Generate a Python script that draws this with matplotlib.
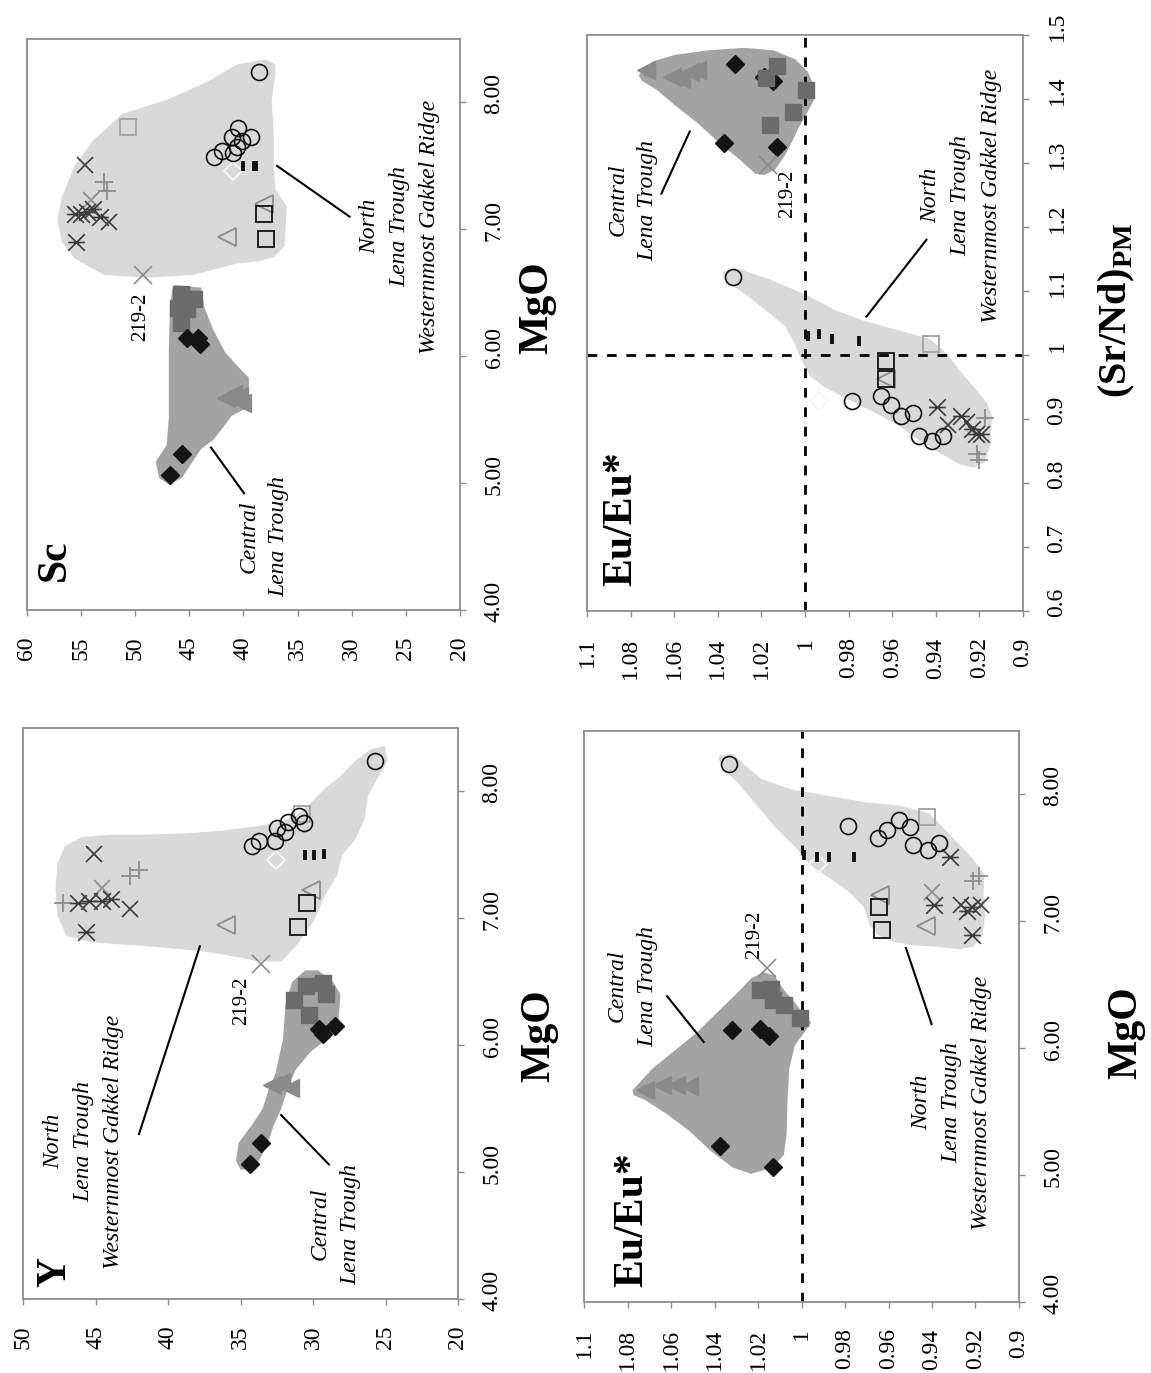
import matplotlib
matplotlib.use("Agg")
import matplotlib.pyplot as plt
from matplotlib.path import Path
from matplotlib.transforms import ScaledTranslation

plt.rcParams['font.family'] = ['Liberation Serif', 'DejaVu Serif']
plt.rcParams['mathtext.fontset'] = 'custom'
plt.rcParams['mathtext.rm'] = 'Liberation Serif'
plt.rcParams['mathtext.bf'] = 'Liberation Serif:bold'

# ---------------------------------------------------------------- data
# Each pair is (plotted element ratio / ppm value, MgO or (Sr/Nd)PM)

# --- Sc vs MgO
sc_field_n = [(37.05, 8.30), (37.9, 8.34), (40.6, 8.30), (43.4, 8.16), (47.1, 8.02),
              (51.2, 7.91), (53.9, 7.70), (55.6, 7.50), (56.8, 7.25), (57.2, 7.08),
              (56.8, 6.90), (55.6, 6.77), (52.9, 6.64), (48.8, 6.62), (44.7, 6.64),
              (40.6, 6.73), (38.6, 6.75), (37.2, 6.78), (36.2, 6.87), (36.0, 7.18),
              (37.05, 7.32), (37.2, 7.50), (37.2, 7.77), (37.4, 8.01), (37.05, 8.23)]
sc_field_c = [(46.4, 6.56), (43.9, 6.54), (43.6, 6.38), (42.8, 6.21), (41.7, 6.03),
              (40.3, 5.90), (39.5, 5.83), (39.5, 5.60), (41.1, 5.53), (41.7, 5.46),
              (42.8, 5.34), (43.9, 5.27), (44.7, 5.17), (45.7, 5.04), (46.9, 4.99),
              (47.8, 5.04), (48.1, 5.17), (47.1, 5.30), (46.9, 5.51), (46.9, 6.03),
              (46.8, 6.38), (46.6, 6.52)]
sc_circle = [(38.6, 8.24), (40.5, 7.80), (39.3, 7.73), (41.1, 7.73), (40.1, 7.70),
             (40.6, 7.65), (42.0, 7.62), (41.0, 7.60), (42.7, 7.57)]
sc_dash = [(40.0, 7.50), (39.0, 7.50), (38.8, 7.50)]
sc_dia_open = [(41.0, 7.46)]
sc_tri_open = [(41.5, 6.94), (38.1, 7.20)]
sc_sq_open = [(38.1, 7.12), (37.9, 6.92)]
sc_sq_grey = [(50.7, 7.81)]
sc_cross = [(54.6, 7.51), (52.4, 7.06)]
sc_star = [(55.5, 6.90), (55.6, 7.12), (55.0, 7.12), (54.5, 7.14), (53.9, 7.16), (53.3, 7.10)]
sc_plus = [(52.9, 7.37), (52.6, 7.30)]
sc_xlight = [(54.1, 7.23)]
sc_219 = [(49.3, 6.64)]
sc_c_dia = [(46.8, 5.06), (45.7, 5.23), (45.2, 6.14), (44.2, 6.14), (44.0, 6.10)]
sc_c_sq = [(45.75, 6.49), (44.56, 6.45), (46.09, 6.38), (45.24, 6.37), (45.75, 6.26)]
sc_c_tri = [(41.66, 5.67), (40.98, 5.70), (40.46, 5.69), (40.12, 5.63)]

# --- Y vs MgO
y_field_n = [(25.05, 8.36), (26.07, 8.33), (27.09, 8.24), (28.11, 8.12), (29.13, 8.03),
             (30.15, 7.91), (31.17, 7.81), (32.19, 7.76), (33.72, 7.73), (36.28, 7.69),
             (38.83, 7.67), (41.38, 7.66), (43.93, 7.66), (45.97, 7.64), (47.12, 7.57),
             (47.63, 7.43), (47.76, 7.23), (47.63, 7.02), (46.99, 6.86), (45.20, 6.81),
             (41.38, 6.78), (37.55, 6.74), (35.0, 6.69), (33.72, 6.66), (32.19, 6.66),
             (31.17, 6.78), (29.90, 6.99), (29.13, 7.19), (28.37, 7.33), (27.98, 7.50),
             (27.09, 7.62), (26.45, 7.78), (26.20, 7.97), (25.56, 8.10), (24.85, 8.24)]
y_field_c = [(30.54, 6.59), (29.64, 6.59), (28.62, 6.50), (28.11, 6.40), (28.24, 6.19),
             (29.0, 6.05), (30.15, 5.95), (31.17, 5.81), (31.68, 5.68), (32.19, 5.50),
             (32.70, 5.37), (33.21, 5.20), (33.72, 5.09), (34.23, 5.02), (35.0, 5.02),
             (35.31, 5.09), (35.13, 5.23), (34.23, 5.37), (33.47, 5.50), (33.09, 5.64),
             (32.58, 5.78), (32.07, 6.05), (31.89, 6.33), (31.43, 6.50)]
y_circle = [(25.69, 8.24), (34.23, 7.57), (33.72, 7.61), (32.65, 7.61), (32.50, 7.71),
            (31.94, 7.68), (31.73, 7.76), (30.97, 7.81), (30.61, 7.75)]
y_dash = [(30.54, 7.50), (29.9, 7.50), (29.26, 7.51)]
y_dia_open = [(32.58, 7.46)]
y_tri_open = [(35.97, 6.95), (30.15, 7.22)]
y_sq_open = [(31.05, 6.93), (30.41, 7.12)]
y_sq_grey = [(30.79, 7.82)]
y_cross = [(45.08, 7.51), (42.65, 7.07)]
y_star = [(45.66, 6.89), (46.22, 7.12), (45.46, 7.14), (44.57, 7.14), (43.93, 7.15)]
y_plus = [(47.24, 7.12), (42.65, 7.33), (42.02, 7.38)]
y_xlight = [(44.57, 7.24)]
y_219 = [(33.6, 6.64)]
y_c_dia = [(34.36, 5.06), (33.6, 5.23), (29.59, 6.13), (29.34, 6.09), (28.49, 6.15)]
y_c_sq = [(31.30, 6.36), (30.46, 6.47), (29.34, 6.49), (29.13, 6.40), (30.28, 6.24)]
y_c_tri = [(32.83, 5.69), (32.19, 5.71), (31.56, 5.66)]

# --- Eu/Eu* vs MgO
eu_field_n = [(1.0375, 8.31), (1.0316, 8.32), (1.0266, 8.24), (1.0182, 8.12), (1.0048, 8.04),
              (0.9880, 7.99), (0.9712, 7.94), (0.9545, 7.91), (0.9411, 7.85), (0.9344, 7.73),
              (0.9277, 7.61), (0.9210, 7.49), (0.9159, 7.37), (0.9163, 7.21), (0.9156, 7.04),
              (0.9168, 6.89), (0.9210, 6.80), (0.9277, 6.78), (0.9377, 6.80), (0.9478, 6.81),
              (0.9578, 6.84), (0.9646, 6.89), (0.9687, 6.97), (0.9712, 7.11), (0.9780, 7.23),
              (0.9880, 7.35), (0.9964, 7.45), (1.0031, 7.59), (1.0115, 7.73), (1.0199, 7.90),
              (1.0283, 8.07), (1.0350, 8.19), (1.0383, 8.28)]
eu_field_c = [(1.0777, 5.67), (1.0685, 5.84), (1.0584, 5.98), (1.0484, 6.12), (1.0383, 6.29),
              (1.0299, 6.43), (1.0232, 6.55), (1.0174, 6.60), (1.0123, 6.57), (1.0081, 6.46),
              (1.0031, 6.36), (0.9981, 6.25), (0.9956, 6.20), (0.9989, 6.12), (1.0031, 6.02),
              (1.0056, 5.84), (1.0065, 5.57), (1.0068, 5.33), (1.0081, 5.16), (1.0132, 5.06),
              (1.0232, 5.01), (1.0316, 5.06), (1.0417, 5.19), (1.0517, 5.35), (1.0618, 5.48),
              (1.0718, 5.59), (1.0772, 5.63)]
eu_circle = [(1.0333, 8.24), (0.9788, 7.75), (0.9649, 7.66), (0.9609, 7.72), (0.9553, 7.80),
             (0.9503, 7.74), (0.9486, 7.60), (0.9419, 7.56), (0.9369, 7.62)]
eu_dash = [(0.9989, 7.52), (0.9930, 7.51), (0.9872, 7.51), (0.9760, 7.51)]
eu_dia_open = [(0.9922, 7.45)]
eu_tri_open = [(0.9637, 7.21), (0.9427, 6.96)]
eu_sq_open = [(0.9642, 7.11), (0.9632, 6.93)]
eu_sq_grey = [(0.9424, 7.82)]
eu_cross = [(0.9268, 7.13), (0.9176, 7.13)]
eu_star = [(0.9319, 7.51), (0.9391, 7.13), (0.9218, 7.11), (0.9218, 6.89), (0.9240, 7.08)]
eu_plus = [(0.9210, 7.32), (0.9184, 7.36)]
eu_xlight = [(0.9402, 7.23)]
eu_219 = [(1.0157, 6.63)]
eu_c_dia = [(1.0132, 5.06), (1.0375, 5.23), (1.0319, 6.14), (1.0190, 6.15), (1.0150, 6.10)]
eu_c_sq = [(1.0190, 6.46), (1.0140, 6.47), (1.0130, 6.38), (1.0080, 6.34), (1.0006, 6.24)]
eu_c_tri = [(1.0718, 5.67), (1.0643, 5.71), (1.0576, 5.71), (1.0517, 5.70)]

# --- Eu/Eu* vs (Sr/Nd)PM
sr_field_n = [(1.0370, 1.132), (1.0295, 1.134), (1.0161, 1.118), (0.9994, 1.094), (0.9860, 1.070),
              (0.9727, 1.053), (0.9576, 1.039), (0.9426, 1.025), (0.9359, 1.005), (0.9292, 0.977),
              (0.9226, 0.950), (0.9167, 0.926), (0.9142, 0.905), (0.9150, 0.860), (0.9175, 0.833),
              (0.9226, 0.824), (0.9292, 0.829), (0.9376, 0.846), (0.9476, 0.867), (0.9576, 0.891),
              (0.9693, 0.912), (0.9810, 0.932), (0.9911, 0.950), (0.9977, 0.967), (1.0019, 0.994),
              (1.0053, 1.022), (1.0094, 1.046), (1.0195, 1.074), (1.0287, 1.098), (1.0362, 1.115),
              (1.0378, 1.125)]
sr_field_c = [(1.0763, 1.437), (1.0696, 1.459), (1.0596, 1.469), (1.0445, 1.476), (1.0278, 1.480),
              (1.0145, 1.476), (1.0044, 1.462), (0.9986, 1.442), (0.9957, 1.418), (0.9961, 1.397),
              (0.9994, 1.376), (1.0028, 1.356), (1.0061, 1.332), (1.0094, 1.311), (1.0136, 1.290),
              (1.0186, 1.281), (1.0228, 1.283), (1.0295, 1.304), (1.0395, 1.332), (1.0495, 1.363),
              (1.0596, 1.390), (1.0679, 1.414), (1.0746, 1.428)]
sr_circle = [(1.0332, 1.122), (0.9785, 0.928), (0.9652, 0.936), (0.9607, 0.922), (0.9560, 0.905),
             (0.9506, 0.910), (0.9476, 0.874), (0.9418, 0.866), (0.9368, 0.874)]
sr_dash = [(0.9986, 1.029), (0.9936, 1.033), (0.9877, 1.025), (0.9752, 1.022)]
sr_dia_open = [(0.9936, 0.928)]
sr_tri_open = [(0.9627, 0.962)]
sr_sq_open = [(0.9627, 0.991), (0.9630, 0.962)]
sr_sq_grey = [(0.9421, 1.017)]
sr_cross = [(0.9342, 0.891), (0.9259, 0.895)]
sr_star = [(0.9393, 0.919), (0.9284, 0.905), (0.9234, 0.884), (0.9217, 0.877), (0.9192, 0.877)]
sr_plus = [(0.9209, 0.846), (0.9200, 0.836), (0.9175, 0.902)]
sr_xlight = []
sr_219 = [(1.0170, 1.297)]
sr_c_dia = [(1.0320, 1.455), (1.0186, 1.435), (1.0145, 1.428), (1.0370, 1.332), (1.0128, 1.325)]
sr_c_sq = [(1.0128, 1.452), (1.0178, 1.433), (0.9994, 1.414), (1.0053, 1.380), (1.0161, 1.359)]
sr_c_tri = [(1.0729, 1.445), (1.0612, 1.435), (1.0570, 1.431), (1.0529, 1.442), (1.0495, 1.445)]

# axis ticks
mgo_ticks = [4, 5, 6, 7, 8]
mgo_labels = ["4.00", "5.00", "6.00", "7.00", "8.00"]
sc_ticks = [60, 55, 50, 45, 40, 35, 30, 25, 20]
y_ticks = [50, 45, 40, 35, 30, 25, 20]
eu_ticks = [1.1, 1.08, 1.06, 1.04, 1.02, 1.0, 0.98, 0.96, 0.94, 0.92, 0.9]
eu_labels = ["1.1", "1.08", "1.06", "1.04", "1.02", "1", "0.98", "0.96", "0.94", "0.92", "0.9"]
srnd_ticks = [0.6, 0.7, 0.8, 0.9, 1.0, 1.1, 1.2, 1.3, 1.4, 1.5]
srnd_labels = ["0.6", "0.7", "0.8", "0.9", "1", "1.1", "1.2", "1.3", "1.4", "1.5"]

NORTH_TXT = ["North", "Lena Trough", "Westernmost Gakkel Ridge"]
CENTRAL_TXT = ["Central", "Lena Trough"]

# ---------------------------------------------------------------- styles
STAR = Path([(-1, -1), (1, 1), (-1, 1), (1, -1), (-1, 0), (1, 0)],
            [Path.MOVETO, Path.LINETO] * 3)
BAR = Path([(0, -1), (0, 1)], [Path.MOVETO, Path.LINETO])

LIGHT = '#d9d9d9'
DARK = '#a3a3a3'

STYLES = {
    'c_tri': dict(marker='<', ms=13, mfc='#8a8a8a', mec='#8a8a8a', mew=1),
    'c_sq': dict(marker='s', ms=11, mfc='#6b6b6b', mec='#6b6b6b', mew=1),
    'c_dia': dict(marker='D', ms=9.5, mfc='#141414', mec='#141414', mew=1),
    'xlight': dict(marker='x', ms=12, mec='#8c8c8c', mew=1.2),
    'sq_grey': dict(marker='s', ms=11, mfc='none', mec='#a6a6a6', mew=1.4),
    'tri_open': dict(marker='<', ms=12.5, mfc='none', mec='#8c8c8c', mew=1.3),
    'sq_open': dict(marker='s', ms=11, mfc='none', mec='#111111', mew=1.3),
    'dia_open': dict(marker='D', ms=9, mfc='none', mec='#f7f7f7', mew=1.4),
    'dash': dict(marker=BAR, ms=6.5, mec='#111111', mew=2.8),
    'plus': dict(marker='+', ms=13, mec='#8c8c8c', mew=1.3),
    'cross': dict(marker='x', ms=12, mec='#3c3c3c', mew=1.2),
    'star': dict(marker=STAR, ms=12, mec='#3c3c3c', mew=1.2),
    'circle': dict(marker='o', ms=11.5, mfc='none', mec='#111111', mew=1.2),
    's219': dict(marker='x', ms=13, mec='#8c8c8c', mew=1.2),
}

W, H = 1151, 1373
fig = plt.figure(figsize=(W / 100, H / 100), dpi=100)


def px_rect(x0, y0, x1, y1):
    return [x0 / W, 1 - y1 / H, (x1 - x0) / W, (y1 - y0) / H]


def style_axes(ax, xlim, xticks, xlabels, ylim, yticks, ylabels):
    ax.set_xlim(*xlim)
    ax.set_ylim(*ylim)
    ax.set_xticks(xticks)
    ax.set_xticklabels(xlabels, rotation=90, fontsize=17)
    ax.yaxis.tick_right()
    ax.set_yticks(yticks)
    ax.set_yticklabels(ylabels, rotation=90, fontsize=17, va='center')
    for s in ax.spines.values():
        s.set_color('#8c8c8c')
        s.set_linewidth(1.3)
    ax.tick_params(axis='both', direction='out', length=4, width=1, color='#8c8c8c')
    ax.tick_params(axis='x', pad=15)
    ax.tick_params(axis='y', pad=13)
    shift = ScaledTranslation(0, 0.09, fig.dpi_scale_trans)
    for lbl in ax.get_yticklabels():
        lbl.set_transform(lbl.get_transform() + shift)


def draw_panel(ax, field_n, field_c, series):
    xs, ys = zip(*field_n)
    ax.fill(xs, ys, color=LIGHT, lw=0, zorder=1)
    xs, ys = zip(*field_c)
    ax.fill(xs, ys, color=DARK, lw=0, zorder=1)
    for key, pts in series:
        if not pts:
            continue
        xs, ys = zip(*pts)
        ax.plot(xs, ys, ls='none', zorder=4, **STYLES[key])


def note(ax, lines, xy, size=17, step=0.30):
    # stacked italic lines, rotated; each line is its own text, spaced in inches
    n = len(lines)
    for i, line in enumerate(lines):
        dx = (i - (n - 1) / 2) * step
        tr = ax.transData + ScaledTranslation(dx, 0, fig.dpi_scale_trans)
        ax.text(xy[0], xy[1], line, transform=tr, rotation=90, style='italic',
                fontsize=size, ha='center', va='center', zorder=6)


def leader(ax, p0, p1):
    ax.plot([p0[0], p1[0]], [p0[1], p1[1]], color='black', lw=1.5, zorder=5)


def label219(ax, xy):
    ax.text(xy[0], xy[1], "219-2", rotation=90, fontsize=15, ha='center', va='center', zorder=6)


def panel_title(ax, text, fx, fy):
    ax.text(fx, fy, text, transform=ax.transAxes, rotation=90, fontsize=30,
            fontweight='bold', ha='center', va='center', zorder=6)


# ---------------------------------------------------------------- Sc panel
ax = fig.add_axes(px_rect(27, 39, 460, 610))
style_axes(ax, (60, 20), sc_ticks, [str(t) for t in sc_ticks], (4, 8.5), mgo_ticks, mgo_labels)
draw_panel(ax, sc_field_n, sc_field_c, [
    ('c_tri', sc_c_tri), ('c_sq', sc_c_sq), ('c_dia', sc_c_dia), ('s219', sc_219),
    ('xlight', sc_xlight), ('sq_grey', sc_sq_grey), ('tri_open', sc_tri_open),
    ('sq_open', sc_sq_open), ('dia_open', sc_dia_open), ('dash', sc_dash),
    ('plus', sc_plus), ('cross', sc_cross), ('star', sc_star), ('circle', sc_circle)])
note(ax, CENTRAL_TXT, (38.1, 4.58))
leader(ax, (43.0, 5.28), (39.95, 4.92))
note(ax, NORTH_TXT, (25.6, 7.02))
leader(ax, (36.9, 7.50), (30.2, 7.10))
label219(ax, (49.5, 6.31))
panel_title(ax, "Sc", 0.065, 0.088)

# ---------------------------------------------------------------- Eu/Eu* vs (Sr/Nd)PM panel
ax = fig.add_axes(px_rect(587, 35, 1023, 611))
style_axes(ax, (1.1, 0.9), eu_ticks, eu_labels, (0.6, 1.5), srnd_ticks, srnd_labels)
ax.axvline(1.0, color='black', lw=2, ls=(0, (3.5, 3.5)), zorder=2)
ax.axhline(1.0, color='black', lw=2, ls=(0, (3.5, 3.5)), zorder=2)
draw_panel(ax, sr_field_n, sr_field_c, [
    ('c_tri', sr_c_tri), ('c_dia', sr_c_dia), ('c_sq', sr_c_sq), ('s219', sr_219),
    ('xlight', sr_xlight), ('sq_grey', sr_sq_grey), ('tri_open', sr_tri_open),
    ('sq_open', sr_sq_open), ('dia_open', sr_dia_open), ('dash', sr_dash),
    ('plus', sr_plus), ('cross', sr_cross), ('star', sr_star), ('circle', sr_circle)])
note(ax, CENTRAL_TXT, (1.0788, 1.242))
leader(ax, (1.0529, 1.349), (1.0659, 1.252))
note(ax, NORTH_TXT, (0.9284, 1.249))
leader(ax, (0.9443, 1.180), (0.9718, 1.060))
label219(ax, (1.0078, 1.252))
panel_title(ax, "Eu/Eu*", 0.078, 0.16)

# ---------------------------------------------------------------- Y panel
ax = fig.add_axes(px_rect(23, 728, 458, 1299))
style_axes(ax, (50, 20), y_ticks, [str(t) for t in y_ticks], (4, 8.5), mgo_ticks, mgo_labels)
draw_panel(ax, y_field_n, y_field_c, [
    ('c_tri', y_c_tri), ('c_sq', y_c_sq), ('c_dia', y_c_dia), ('s219', y_219),
    ('xlight', y_xlight), ('sq_grey', y_sq_grey), ('tri_open', y_tri_open),
    ('sq_open', y_sq_open), ('dia_open', y_dia_open), ('dash', y_dash),
    ('plus', y_plus), ('cross', y_cross), ('star', y_star), ('circle', y_circle)])
note(ax, NORTH_TXT, (45.84, 5.24))
leader(ax, (42.0, 5.30), (37.8, 6.78))
note(ax, CENTRAL_TXT, (28.44, 4.59))
leader(ax, (32.2, 5.45), (28.9, 5.06))
label219(ax, (34.9, 6.35))
panel_title(ax, "Y", 0.075, 0.048)

# ---------------------------------------------------------------- Eu/Eu* vs MgO panel
ax = fig.add_axes(px_rect(584, 731, 1019, 1302))
style_axes(ax, (1.1, 0.9), eu_ticks, eu_labels, (4, 8.5), mgo_ticks, mgo_labels)
ax.axvline(1.0, color='black', lw=2, ls=(0, (3.5, 3.5)), zorder=2)
draw_panel(ax, eu_field_n, eu_field_c, [
    ('c_tri', eu_c_tri), ('c_dia', eu_c_dia), ('c_sq', eu_c_sq), ('s219', eu_219),
    ('xlight', eu_xlight), ('sq_grey', eu_sq_grey), ('tri_open', eu_tri_open),
    ('sq_open', eu_sq_open), ('dia_open', eu_dia_open), ('dash', eu_dash),
    ('plus', eu_plus), ('cross', eu_cross), ('star', eu_star), ('circle', eu_circle)])
note(ax, CENTRAL_TXT, (1.0777, 6.49))
leader(ax, (1.0618, 6.41), (1.0450, 6.05))
note(ax, NORTH_TXT, (0.9310, 5.57))
leader(ax, (0.9520, 6.79), (0.9402, 6.19))
label219(ax, (1.0215, 6.89))
panel_title(ax, "Eu/Eu*", 0.111, 0.144)

# ---------------------------------------------------------------- axis titles
def fig_title(text, x, y, size=30):
    fig.text(x / W, 1 - y / H, text, rotation=90, fontsize=size, fontweight='bold',
             ha='center', va='center')


fig_title("MgO", 537, 308)
fig_title("MgO", 539, 1036)
fig_title("MgO", 1126, 1033)
fig_title(r"$\mathbf{(Sr/Nd)}_{\mathbf{PM}}$", 1117, 310, size=29)

fig.savefig("out.png", dpi=100, facecolor='white')
